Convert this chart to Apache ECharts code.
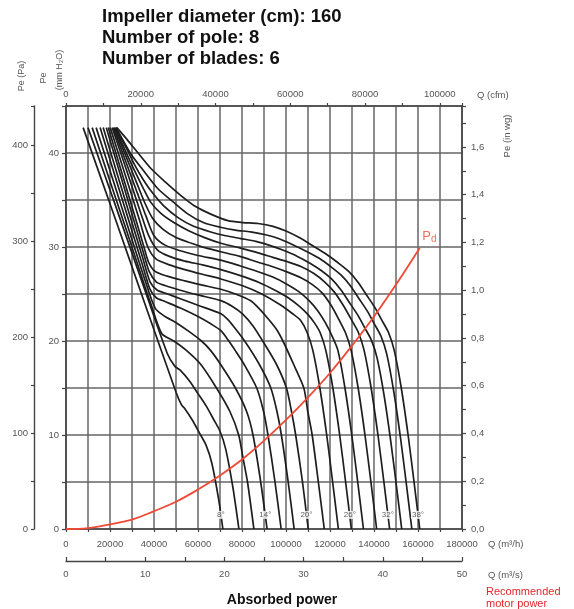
<!DOCTYPE html>
<html>
<head>
<meta charset="utf-8">
<script src="https://cdn.jsdelivr.net/npm/echarts@6/dist/echarts.min.js"></script>
<style>
html,body{margin:0;padding:0;background:#fff;}
#chart{width:574px;height:609px;}
</style>
</head>
<body>
<div id="chart"></div>
<script>
// ---------- DATA (Q in m3/h, Pe in mm H2O) ----------
const angleNames = ['8°','10°','12°','14°','16°','18°','20°','22°','24°','26°','28°','30°','32°','34°','36°','38°'];

const c8  = [[7800,42.7],[22400,33.0],[37000,23.2],[50100,14.5],[52500,13.2],[53700,12.9],[57400,11.6],[60700,10.2],[63700,8.9],[66300,7.0],[69500,3.0],[71300,0]];
const c10 = [[10000,42.7],[22500,34.4],[35000,26.0],[46000,18.7],[49500,17.3],[51900,16.9],[56300,15.7],[60000,14.4],[63700,13.1],[67000,11.7],[70000,10.4],[72600,8.5],[75800,4.5],[78600,0]];
const c12 = [[11900,42.7],[20000,37.0],[28000,31.4],[35000,26.4],[38500,24.0],[43500,20.8],[49000,20.0],[54700,19.0],[61300,17.5],[68400,15.0],[74500,12.5],[78500,10.0],[80500,7.5],[82500,5.0],[85400,0]];
const c14 = [[13700,42.7],[21000,37.4],[28500,31.9],[36000,26.4],[40500,23.5],[45000,22.6],[49700,22.0],[56000,21.0],[61600,20.0],[65700,19.0],[70300,17.5],[77000,15.0],[82100,12.5],[85000,10.0],[88500,5.0],[91400,0]];
const c16 = [[15500,42.7],[23000,37.0],[30000,31.7],[34500,28.3],[38000,25.6],[41000,24.6],[45000,24.2],[52000,23.5],[60000,22.6],[66000,21.8],[70400,21.1],[74000,20.0],[76900,19.0],[81000,17.5],[86700,15.0],[89800,12.5],[91800,10.0],[95000,5.0],[97800,0]];
const c18 = [[16900,42.7],[24000,37.2],[30500,32.2],[34800,28.9],[38200,26.3],[41500,25.4],[45000,25.1],[52000,24.5],[60000,23.8],[70400,22.9],[73500,22.3],[76000,21.6],[81200,20.0],[87900,17.5],[93100,15.0],[95900,12.5],[97900,10.0],[101000,5.0],[103700,0]];
const c20 = [[18300,42.7],[24800,37.6],[31000,32.7],[35200,29.4],[37800,27.4],[41000,26.3],[45000,25.9],[52000,25.4],[60000,24.9],[70400,24.3],[75500,23.7],[80100,22.9],[85000,21.6],[89400,20.0],[95700,17.5],[100200,15.0],[102500,12.5],[104400,10.0],[107500,5.0],[110100,0]];
const c22 = [[19200,42.7],[25500,37.8],[31500,33.1],[35800,29.7],[37500,28.4],[40500,27.4],[46000,26.9],[54000,26.4],[62000,25.95],[70400,25.5],[77000,25.0],[83800,24.3],[88000,23.4],[91400,22.5],[95500,21.3],[98600,20.0],[103500,17.5],[108100,15.0],[109900,12.5],[111900,10.0],[114700,5.0],[117400,0]];
const c24 = [[20100,42.7],[27000,37.6],[33500,32.8],[37200,30.0],[41000,28.7],[47000,28.1],[54000,27.6],[62000,27.1],[70400,26.6],[80000,25.9],[89000,25.0],[97000,23.9],[103000,22.9],[106600,22.2],[109600,20.9],[112200,19.0],[115400,15.0],[118500,10.0],[121200,5.0],[123800,0]];
const c26 = [[21000,42.7],[27500,38.2],[34000,33.6],[37600,31.2],[41500,29.7],[47000,29.0],[54000,28.5],[62000,28.1],[70400,27.6],[80000,26.9],[88000,26.2],[95000,25.4],[101000,24.6],[106000,23.7],[110000,22.8],[113000,21.9],[115500,20.9],[118100,19.0],[121300,15.0],[124400,10.0],[127100,5.0],[129700,0]];
const c28 = [[21500,42.7],[27000,39.2],[32500,35.7],[36500,33.2],[40000,31.2],[45000,30.2],[52000,29.6],[60000,29.1],[70400,28.6],[79000,28.0],[87000,27.4],[94000,26.8],[100000,26.1],[105500,25.3],[110500,24.3],[114500,23.2],[118000,21.9],[121000,20.5],[123600,19.0],[126800,15.0],[129900,10.0],[132600,5.0],[135200,0]];
const c30 = [[21900,42.7],[27000,39.8],[32000,36.9],[36000,34.6],[39500,33.0],[44000,31.9],[50000,31.0],[57000,30.4],[63500,29.9],[70400,29.5],[79000,29.0],[87000,28.4],[94000,27.9],[101000,27.3],[107000,26.7],[112000,26.0],[116500,25.1],[120500,23.8],[124000,22.3],[127000,20.9],[129600,19.0],[132800,15.0],[135900,10.0],[138600,5.0],[141200,0]];
const c32 = [[22400,42.7],[26500,40.5],[31000,38.2],[35000,36.3],[38400,34.8],[43000,33.6],[49000,32.6],[56000,31.7],[63000,31.0],[70400,30.4],[79000,29.9],[87000,29.4],[94000,28.9],[101000,28.4],[107000,27.9],[112500,27.2],[117500,26.3],[122000,25.2],[126000,23.8],[129900,22.2],[132900,20.9],[135500,19.0],[138700,15.0],[141800,10.0],[144500,5.0],[147100,0]];
const c34 = [[22600,42.7],[27500,40.5],[31500,38.6],[35000,37.2],[38500,36.0],[44300,34.4],[51100,33.1],[58000,32.2],[65800,31.6],[72600,31.2],[79500,30.9],[86300,30.6],[92200,30.2],[98200,29.7],[105200,29.0],[110700,28.3],[116000,27.5],[120700,26.6],[125100,25.4],[128800,24.1],[132500,22.8],[135800,21.4],[138800,20.1],[141400,18.2],[144600,14.2],[147700,9.2],[150400,4.2],[152600,0]];
const c36 = [[22800,42.7],[29500,39.9],[35000,38.2],[41800,36.2],[48700,34.8],[55500,33.5],[62400,32.6],[70200,32.1],[77000,31.8],[83900,31.6],[90700,31.3],[96600,30.9],[102600,30.3],[109600,29.5],[115100,28.8],[120400,27.9],[125100,27.0],[129500,25.8],[133200,24.5],[136900,23.2],[140200,21.8],[143200,20.5],[145800,18.6],[149000,14.6],[152100,9.6],[154800,4.6],[157200,0]];
const c38 = [[23100,42.7],[27900,41.4],[32400,40.1],[38400,38.4],[45200,36.9],[52100,35.5],[58900,34.3],[65800,33.5],[73600,32.8],[80400,32.6],[87300,32.5],[94100,32.2],[100000,31.7],[106000,31.0],[113000,30.0],[118500,29.2],[123800,28.3],[128500,27.4],[132900,26.2],[136600,24.9],[140300,23.6],[143600,22.2],[146600,20.9],[149200,19.0],[152400,15.0],[155500,10.0],[158200,5.0],[160800,0]];

const curves = [c8,c10,c12,c14,c16,c18,c20,c22,c24,c26,c28,c30,c32,c34,c36,c38];

// dynamic pressure Pd (mm H2O) vs Q (m3/h)
const pdQ  = [0,10000,20000,30000,40000,50000,60000,70000,80000,90000,100000,110000,120000,130000,140000,150000,160800];
const pdPe = [0,0.1,0.5,1.0,1.9,2.9,4.2,5.7,7.4,9.4,11.6,14.0,16.6,19.5,22.6,26.0,29.9];

// blade angle labels placed on the curves near the bottom
const labelAngles = ['8°','14°','20°','26°','32°','38°'];
const labelQ      = [70400,90600,109300,129000,146300,160000];
const labelPe     = [1.5,1.5,1.5,1.5,1.5,1.5];

const titleLines = ['Impeller diameter (cm): 160','Number of pole: 8','Number of blades: 6'];

// ---------- CHART ----------
const FONT = '"Liberation Sans", Arial, Helvetica, sans-serif';
const RED = '#ee4a35';
const GRID = '#666';
const AX = '#444';
const LBL = '#555';

const chart = echarts.init(document.getElementById('chart'), null, {renderer:'canvas'});

const curveSeries = curves.map((d, i) => ({
  name: angleNames[i],
  type: 'line',
  xAxisIndex: 0, yAxisIndex: 0,
  data: d,
  smooth: 0.25,
  showSymbol: false,
  symbol: 'none',
  lineStyle: {color: '#1e1e1e', width: 1.7},
  z: 3,
  silent: true
}));

const pdSeries = {
  name: 'Pd', type: 'line', xAxisIndex: 0, yAxisIndex: 0,
  data: pdQ.map((q, i) => [q, pdPe[i]]),
  smooth: 0.4, showSymbol: false, symbol: 'none',
  lineStyle: {color: RED, width: 1.8}, z: 5, silent: true
};

const pdLabel = {
  type: 'scatter', xAxisIndex: 0, yAxisIndex: 0,
  data: [[pdQ[pdQ.length-1], pdPe[pdPe.length-1]]],
  symbolSize: 1, itemStyle: {color: 'rgba(0,0,0,0)'}, z: 6, silent: true,
  label: {show: true, position: 'right', distance: 2, offset: [0, -12],
    formatter: '{p|P}{d|d}',
    rich: {p: {fontSize: 13, color: RED, fontFamily: FONT},
           d: {fontSize: 10, color: RED, fontFamily: FONT, padding: [7, 0, 0, 0]}}}
};

const angleLabelSeries = {
  type: 'scatter', xAxisIndex: 0, yAxisIndex: 0,
  data: labelQ.map((q, i) => [q, labelPe[i], labelAngles[i]]),
  symbolSize: 1, itemStyle: {color: 'rgba(0,0,0,0)'}, z: 7, silent: true,
  label: {show: true, position: 'inside', formatter: p => p.value[2],
    fontSize: 8, color: '#333', backgroundColor: '#fff', padding: [0, 1], fontFamily: FONT}
};

const even = (step) => (v) => (Math.abs(v / step - Math.round(v / step)) < 1e-6 ? String(v) : '');

const option = {
  animation: false,
  backgroundColor: '#fff',
  textStyle: {fontFamily: FONT},
  grid: {left: 66, right: 112, top: 106, bottom: 80, containLabel: false, outerBoundsMode: 'none'},
  xAxis: [
    { type: 'value', position: 'bottom', min: 0, max: 180000, interval: 10000,
      axisLine: {show: true, onZero: false, lineStyle: {color: AX, width: 1.6}},
      axisTick: {show: true, length: 3, lineStyle: {color: AX, width: 1.2}},
      axisLabel: {fontSize: 9.5, color: LBL, margin: 10, formatter: even(20000), showMaxLabel: true, showMinLabel: true},
      splitLine: {show: true, lineStyle: {color: GRID, width: 1.5}} },
    { type: 'value', position: 'bottom', offset: 32, min: 0, max: 50, interval: 5,
      axisLine: {show: true, onZero: false, lineStyle: {color: AX, width: 1.3}},
      axisTick: {show: true, inside: true, length: 4, lineStyle: {color: AX, width: 1.2}},
      axisLabel: {fontSize: 9.5, color: LBL, margin: 8, formatter: even(10)},
      splitLine: {show: false} },
    { type: 'value', position: 'top', min: 0, max: 105944, interval: 10000,
      axisLine: {show: true, onZero: false, lineStyle: {color: AX, width: 1.6}},
      axisTick: {show: true, length: 3, lineStyle: {color: AX, width: 1.2}},
      axisLabel: {fontSize: 9.5, color: LBL, margin: 7, formatter: even(20000)},
      splitLine: {show: false} }
  ],
  yAxis: [
    { type: 'value', position: 'left', min: 0, max: 45, interval: 5,
      axisLine: {show: true, onZero: false, lineStyle: {color: AX, width: 1.6}},
      axisTick: {show: true, length: 4, lineStyle: {color: AX, width: 1.2}},
      axisLabel: {fontSize: 9.5, color: LBL, margin: 7, formatter: even(10)},
      splitLine: {show: true, lineStyle: {color: GRID, width: 1.5}} },
    { type: 'value', position: 'left', offset: 32, min: 0, max: 441.3, interval: 50,
      axisLine: {show: true, onZero: false, lineStyle: {color: AX, width: 1.4}},
      axisTick: {show: true, length: 3, lineStyle: {color: AX, width: 1.2}},
      axisLabel: {fontSize: 9.5, color: LBL, margin: 6, formatter: even(100)},
      splitLine: {show: false} },
    { type: 'value', position: 'right', min: 0, max: 1.7717, interval: 0.1,
      axisLine: {show: true, onZero: false, lineStyle: {color: AX, width: 1.6}},
      axisTick: {show: true, length: 4, lineStyle: {color: AX, width: 1.2}},
      axisLabel: {fontSize: 9.5, color: LBL, margin: 9,
        formatter: v => { const t = Math.round(v * 10); return (Math.abs(v * 10 - t) < 1e-6 && t % 2 === 0) ? (t / 10).toFixed(1).replace('.', ',') : ''; }},
      splitLine: {show: false} }
  ],
  graphic: [
    ...titleLines.map((t, i) => ({
      type: 'text', x: 102, y: 17 + i * 21,
      style: {text: t, font: 'bold 18.5px ' + FONT, fill: '#111', verticalAlign: 'middle', align: 'left'}
    })),
    {type: 'text', x: 22, y: 76, rotation: Math.PI / 2,
     style: {text: 'Pe (Pa)', font: '9px ' + FONT, fill: LBL, align: 'center', verticalAlign: 'middle'}},
    {type: 'text', x: 44, y: 78, rotation: Math.PI / 2,
     style: {text: 'Pe', font: '9px ' + FONT, fill: LBL, align: 'center', verticalAlign: 'middle'}},
    {type: 'text', x: 60, y: 70, rotation: Math.PI / 2,
     style: {text: '(mm H₂O)', font: '9px ' + FONT, fill: LBL, align: 'center', verticalAlign: 'middle'}},
    {type: 'text', x: 507, y: 136, rotation: Math.PI / 2,
     style: {text: 'Pe (in wg)', font: '9.5px ' + FONT, fill: LBL, align: 'center', verticalAlign: 'middle'}},
    {type: 'text', x: 477, y: 95,
     style: {text: 'Q (cfm)', font: '9.5px ' + FONT, fill: LBL, align: 'left', verticalAlign: 'middle'}},
    {type: 'text', x: 488, y: 544,
     style: {text: 'Q (m³/h)', font: '9.5px ' + FONT, fill: LBL, align: 'left', verticalAlign: 'middle'}},
    {type: 'text', x: 488, y: 575,
     style: {text: 'Q (m³/s)', font: '9.5px ' + FONT, fill: LBL, align: 'left', verticalAlign: 'middle'}},
    {type: 'text', x: 282, y: 600,
     style: {text: 'Absorbed power', font: 'bold 14px ' + FONT, fill: '#111', align: 'center', verticalAlign: 'middle'}},
    {type: 'text', x: 486, y: 592,
     style: {text: 'Recommended', font: '11px ' + FONT, fill: '#e3262d', align: 'left', verticalAlign: 'middle'}},
    {type: 'text', x: 486, y: 604,
     style: {text: 'motor power', font: '11px ' + FONT, fill: '#e3262d', align: 'left', verticalAlign: 'middle'}}
  ],
  series: [...curveSeries, pdSeries, pdLabel, angleLabelSeries]
};

chart.setOption(option);
</script>
</body>
</html>
